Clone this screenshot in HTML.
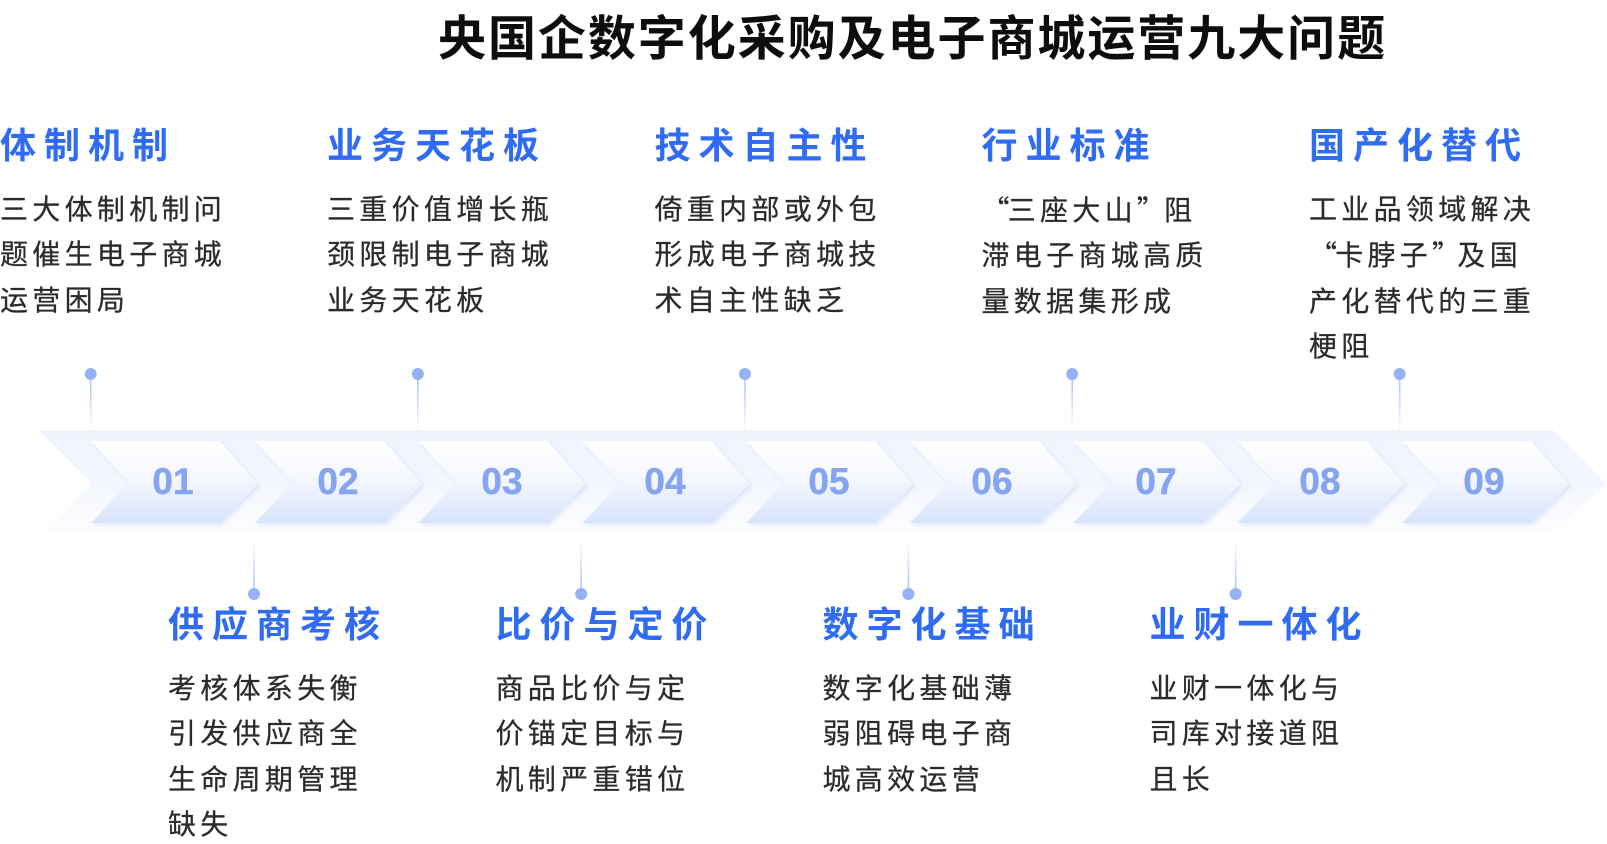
<!DOCTYPE html>
<html lang="zh-CN">
<head>
<meta charset="utf-8">
<title>央国企数字化采购及电子商城运营九大问题</title>
<style>
html,body{margin:0;padding:0;background:#fff;}
#p{position:relative;width:1607px;height:844px;overflow:hidden;background:#fff;font-family:"Liberation Sans","Noto Sans CJK SC",sans-serif;}
#p svg{position:absolute;left:0;top:0;}
.t{position:absolute;white-space:nowrap;}
.title{left:438px;top:5px;font-size:48px;line-height:70px;font-weight:700;letter-spacing:1.95px;color:#0d0d0d;}
.h{font-size:36px;line-height:50px;font-weight:700;letter-spacing:8px;color:#2f6bf3;}
.b{font-size:28px;line-height:45.6px;letter-spacing:4.3px;color:#2b2b2b;white-space:pre;-webkit-text-stroke:0.25px #2b2b2b;}
.b i{font-style:normal;font-family:"Noto Sans CJK SC",sans-serif;}
.n{font-size:37px;line-height:44px;font-weight:700;color:#86a5f1;width:80px;text-align:center;top:460px;-webkit-text-stroke:0.5px #86a5f1;}
</style>
</head>
<body>
<div id="p">
<svg width="1607" height="844" viewBox="0 0 1607 844">
<defs>
<linearGradient id="band" x1="0" y1="0" x2="0" y2="1">
<stop offset="0" stop-color="#f0f4fe"/><stop offset="0.55" stop-color="#f3f6fe"/><stop offset="1" stop-color="#fdfdff"/>
</linearGradient>
<linearGradient id="chev" x1="0" y1="0" x2="0" y2="1">
<stop offset="0" stop-color="#ffffff"/><stop offset="0.45" stop-color="#f5f7fe"/><stop offset="1" stop-color="#d8e3fb"/>
</linearGradient>
<linearGradient id="up" x1="0" y1="0" x2="0" y2="1">
<stop offset="0" stop-color="#a3bdf7"/><stop offset="1" stop-color="#a3bdf7" stop-opacity="0.05"/>
</linearGradient>
<linearGradient id="dn" x1="0" y1="0" x2="0" y2="1">
<stop offset="0" stop-color="#a3bdf7" stop-opacity="0.05"/><stop offset="1" stop-color="#a3bdf7"/>
</linearGradient>
<filter id="sh" x="-10%" y="-10%" width="125%" height="125%"><feDropShadow dx="2" dy="2" stdDeviation="2" flood-color="#c5d4f9" flood-opacity="0.55"/></filter>
<polygon id="c" points="91,441 220,441 258,484 220,523 91,523 129,483" fill="url(#chev)" filter="url(#sh)"/>
</defs>
<polygon points="38,430 1553,430 1607,484 1553,532 46,532 92,483" fill="url(#band)"/>
<use href="#c" x="0"/>
<use href="#c" x="164"/>
<use href="#c" x="327.5"/>
<use href="#c" x="491.5"/>
<use href="#c" x="655"/>
<use href="#c" x="819"/>
<use href="#c" x="982.5"/>
<use href="#c" x="1146.5"/>
<use href="#c" x="1311"/>
<g>
<rect x="89.9" y="374" width="1.6" height="56" fill="url(#up)"/>
<rect x="417" y="374" width="1.6" height="56" fill="url(#up)"/>
<rect x="744.2" y="374" width="1.6" height="56" fill="url(#up)"/>
<rect x="1071.4" y="374" width="1.6" height="56" fill="url(#up)"/>
<rect x="1398.9" y="374" width="1.6" height="56" fill="url(#up)"/>
<rect x="253.2" y="542" width="1.6" height="51" fill="url(#dn)"/>
<rect x="580.4" y="542" width="1.6" height="51" fill="url(#dn)"/>
<rect x="907.6" y="542" width="1.6" height="51" fill="url(#dn)"/>
<rect x="1234.9" y="542" width="1.6" height="51" fill="url(#dn)"/>
</g>
<g fill="#95b2f6">
<circle cx="90.7" cy="374" r="6"/>
<circle cx="417.8" cy="374" r="6"/>
<circle cx="745" cy="374" r="6"/>
<circle cx="1072.2" cy="374" r="6"/>
<circle cx="1399.7" cy="374" r="6"/>
<circle cx="254" cy="594" r="6"/>
<circle cx="581.2" cy="594" r="6"/>
<circle cx="908.4" cy="594" r="6"/>
<circle cx="1235.7" cy="594" r="6"/>
</g>
</svg>

<div class="t title">央国企数字化采购及电子商城运营九大问题</div>

<div class="t n" style="left:133px">01</div>
<div class="t n" style="left:298px">02</div>
<div class="t n" style="left:462px">03</div>
<div class="t n" style="left:625px">04</div>
<div class="t n" style="left:789px">05</div>
<div class="t n" style="left:952px">06</div>
<div class="t n" style="left:1116px">07</div>
<div class="t n" style="left:1280px">08</div>
<div class="t n" style="left:1444px">09</div>

<div class="t h" style="left:0;top:121px">体制机制</div>
<div class="t b" style="left:0;top:186.5px">三大体制机制问
题催生电子商城
运营困局</div>

<div class="t h" style="left:327px;top:121px">业务天花板</div>
<div class="t b" style="left:327px;top:186.5px">三重价值增长瓶
颈限制电子商城
业务天花板</div>

<div class="t h" style="left:654.5px;top:121px">技术自主性</div>
<div class="t b" style="left:654.5px;top:186.5px">倚重内部或外包
形成电子商城技
术自主性缺乏</div>

<div class="t h" style="left:981.5px;top:121px">行业标准</div>
<div class="t b" style="left:981.5px;top:186.5px"><i style="letter-spacing:-1.8px">“</i>三座大山<i style="letter-spacing:-0.8px">”</i>阻
滞电子商城高质
量数据集形成</div>

<div class="t h" style="left:1309px;top:121px">国产化替代</div>
<div class="t b" style="left:1309px;top:186.5px">工业品领域解决
<i style="letter-spacing:-1.8px">“</i>卡脖子<i style="letter-spacing:-2.7px">”</i>及国
产化替代的三重
梗阻</div>

<div class="t h" style="left:168px;top:600px">供应商考核</div>
<div class="t b" style="left:168px;top:665.6px">考核体系失衡
引发供应商全
生命周期管理
缺失</div>

<div class="t h" style="left:495.5px;top:600px">比价与定价</div>
<div class="t b" style="left:495.5px;top:665.6px">商品比价与定
价锚定目标与
机制严重错位</div>

<div class="t h" style="left:822.5px;top:600px">数字化基础</div>
<div class="t b" style="left:822.5px;top:665.6px">数字化基础薄
弱阻碍电子商
城高效运营</div>

<div class="t h" style="left:1149.5px;top:600px">业财一体化</div>
<div class="t b" style="left:1149.5px;top:665.6px">业财一体化与
司库对接道阻
且长</div>
</div>
</body>
</html>
